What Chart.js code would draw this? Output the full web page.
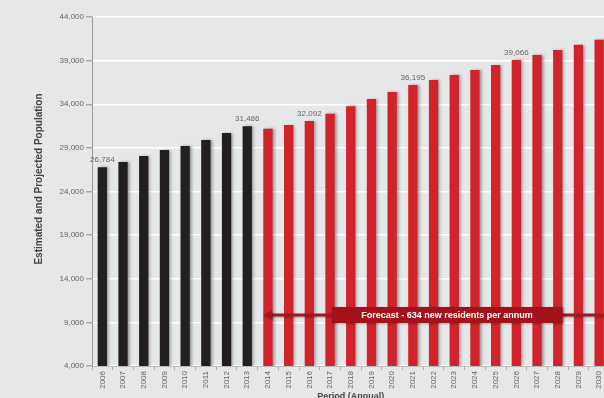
<!DOCTYPE html>
<html>
<head>
<meta charset="utf-8">
<script src="https://cdn.jsdelivr.net/npm/chart.js@4"></script>
<style>
  html, body { margin: 0; padding: 0; background: #e6e7e9; overflow: hidden; }
  canvas { display: block; }
</style>
</head>
<body>
<canvas id="myChart" width="612" height="404"></canvas>
<script>
const years = ['2006', '2007', '2008', '2009', '2010', '2011', '2012', '2013', '2014', '2015',
    '2016', '2017', '2018', '2019', '2020', '2021', '2022', '2023', '2024', '2025',
    '2026', '2027', '2028', '2029', '2030'];

// estimated (black) and projected (red) population
const estimated = [26784, 27380, 28070, 28760, 29215, 29900, 30705, 31486,
    null, null, null, null, null, null, null, null, null, null, null, null, null, null, null, null, null];
const projected = [null, null, null, null, null, null, null, null,
    31198, 31622, 32092, 32917, 33765, 34602, 35404, 36195, 36779, 37350, 37926, 38499,
    39066, 39645, 40218, 40808, 41398];

const labelledYears = ['2006', '2013', '2016', '2021', '2026'];
const yTicks = [4000, 9000, 14000, 19000, 24000, 29000, 34000, 39000, 44000];
const forecastText = 'Forecast - 634 new residents per annum';

const FONT = "'Liberation Sans', Arial, sans-serif";

const shadowPlugin = {
    id: 'barShadow',
    beforeDatasetsDraw(chart) {
        const ctx = chart.ctx;
        ctx.save();
        ctx.shadowColor = 'rgba(0,0,0,0.35)';
        ctx.shadowOffsetX = 2;
        ctx.shadowOffsetY = 0;
        ctx.shadowBlur = 3;
    },
    afterDatasetsDraw(chart) {
        chart.ctx.restore();
    }
};

const valueLabels = {
    id: 'valueLabels',
    afterDatasetsDraw(chart) {
        const ctx = chart.ctx;
        ctx.save();
        ctx.font = '8px ' + FONT;
        ctx.fillStyle = '#666';
        ctx.textAlign = 'center';
        ctx.textBaseline = 'bottom';
        chart.data.datasets.forEach((ds, di) => {
            const meta = chart.getDatasetMeta(di);
            ds.data.forEach((v, i) => {
                if (v == null || !labelledYears.includes(years[i])) return;
                const bar = meta.data[i];
                ctx.fillText(v.toLocaleString('en-US'), bar.x, bar.y - 3);
            });
        });
        ctx.restore();
    }
};

const forecastArrow = {
    id: 'forecastArrow',
    afterDatasetsDraw(chart) {
        const ctx = chart.ctx;
        const x = chart.scales.x, y = chart.scales.y;
        const yy = y.getPixelForValue(9850);
        const x0 = x.getPixelForValue(7.76);
        const x1 = chart.width;
        ctx.save();
        ctx.shadowColor = 'rgba(0,0,0,0.3)';
        ctx.shadowOffsetX = 1;
        ctx.shadowOffsetY = 1;
        ctx.shadowBlur = 2;
        ctx.strokeStyle = '#9e1a20';
        ctx.fillStyle = '#9e1a20';
        ctx.lineWidth = 3;
        ctx.beginPath();
        ctx.moveTo(x0 + 6, yy);
        ctx.lineTo(x1, yy);
        ctx.stroke();
        ctx.beginPath();
        ctx.moveTo(x0, yy);
        ctx.lineTo(x0 + 9, yy - 4.5);
        ctx.lineTo(x0 + 9, yy + 4.5);
        ctx.closePath();
        ctx.fill();
        // label box
        const cx = x.getPixelForValue(16.65);
        const w = 231, h = 16;
        ctx.fillStyle = '#a3111a';
        ctx.fillRect(cx - w / 2, yy - h / 2, w, h);
        ctx.shadowColor = 'transparent';
        ctx.fillStyle = '#ffffff';
        ctx.font = 'bold 9px ' + FONT;
        ctx.textAlign = 'center';
        ctx.textBaseline = 'middle';
        ctx.fillText(forecastText, cx, yy + 0.5);
        ctx.restore();
    }
};

const config = {
    type: 'bar',
    data: {
        labels: years,
        datasets: [{
            label: 'Estimated',
            data: estimated,
            backgroundColor: '#231f20',
            grouped: false,
            barPercentage: 0.45,
            categoryPercentage: 1
        }, {
            label: 'Projected',
            data: projected,
            backgroundColor: '#d2232a',
            grouped: false,
            barPercentage: 0.45,
            categoryPercentage: 1
        }]
    },
    options: {
        responsive: false,
        animation: false,
        layout: {
            padding: { left: 0, right: 2.5, top: 17, bottom: 0 }
        },
        plugins: {
            legend: { display: false },
            tooltip: { enabled: false }
        },
        scales: {
            x: {
                grid: {
                    drawOnChartArea: false,
                    drawTicks: true,
                    tickLength: 4,
                    color: '#aaa',
                    offset: true
                },
                border: { color: '#bbb', width: 1 },
                ticks: {
                    minRotation: 90,
                    maxRotation: 90,
                    autoSkip: false,
                    padding: 1,
                    color: '#666',
                    font: { family: FONT, size: 8 }
                },
                title: {
                    display: true,
                    text: 'Period (Annual)',
                    color: '#444',
                    padding: { top: 0, bottom: 2 },
                    font: { family: FONT, size: 9, weight: 'bold' }
                },
                afterFit(scale) { scale.height = 38; }
            },
            y: {
                min: 4000,
                max: 44000,
                afterBuildTicks(scale) {
                    scale.ticks = yTicks.map(v => ({ value: v }));
                },
                grid: {
                    color: '#ffffff',
                    lineWidth: 1.5,
                    tickColor: '#aaa',
                    tickLength: 6
                },
                border: { color: '#999', width: 1 },
                ticks: {
                    padding: 2,
                    color: '#666',
                    font: { family: FONT, size: 8 },
                    callback: v => v.toLocaleString('en-US')
                },
                title: {
                    display: true,
                    // leading spaces nudge the title up a bit, like the original
                    text: '         Estimated and Projected Population',
                    color: '#444',
                    padding: { top: 33, bottom: 0 },
                    font: { family: FONT, size: 10, weight: 'bold' }
                },
                afterFit(scale) { scale.width = 92; }
            }
        }
    },
    plugins: [shadowPlugin, valueLabels, forecastArrow]
};

const chart = new Chart(document.getElementById('myChart'), config);
</script>
</body>
</html>
